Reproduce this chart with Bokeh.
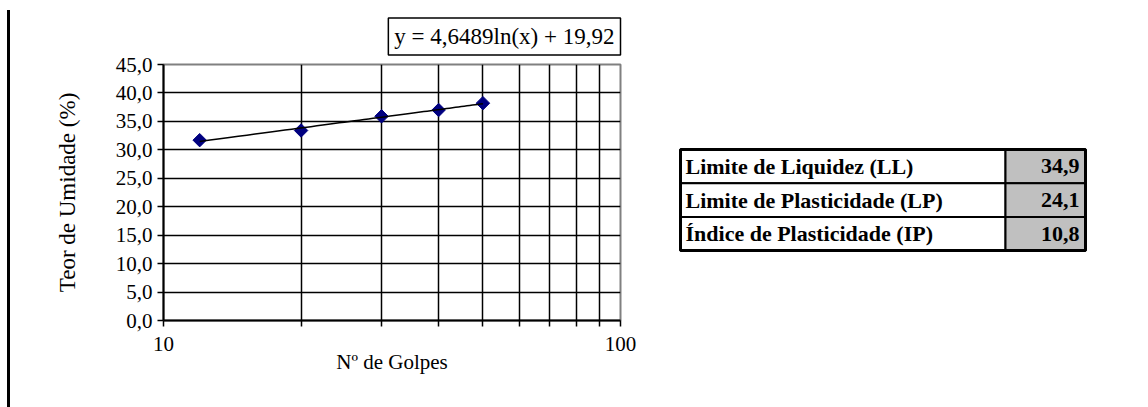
import numpy as np
from bokeh.plotting import figure
from bokeh.layouts import row
from bokeh.models import FixedTicker, BasicTickFormatter, Div
from bokeh.core.properties import value
from bokeh.embed import file_html
from bokeh.resources import INLINE

# Casagrande liquid-limit test: blows vs. moisture content
golpes = [12, 20, 30, 40, 50]
umidade = [31.7, 33.4, 35.9, 37.0, 38.2]

# logarithmic trend line  y = a*ln(x) + b
trend_a = 4.6489
trend_b = 19.92
trend_text = "y = 4,6489ln(x) + 19,92"

y_ticks = [0, 5, 10, 15, 20, 25, 30, 35, 40, 45]
y_tick_labels = ["0,0", "5,0", "10,0", "15,0", "20,0", "25,0", "30,0", "35,0", "40,0", "45,0"]
x_ticks = [10, 100]
x_minor_ticks = [20, 30, 40, 50, 60, 70, 80, 90]

# Atterberg limits summary
limit_names = ["Limite de Liquidez (LL)", "Limite de Plasticidade (LP)", "Índice de Plasticidade (IP)"]
limit_values = [34.9, 24.1, 10.8]

SERIF = "Liberation Serif"
H = 407
TOP, BOTTOM = 64, 87          # vertical margins around the plotting frame

# ---- thin vertical rule on the left edge ----
rule = Div(text='<div style="margin-left:7px; margin-top:10px; width:3px; '
                'height:397px; background:black"></div>',
           width=20, height=H, margin=0)

# ---- chart ----
p = figure(width=640, height=H, x_axis_type="log", x_range=(10, 100), y_range=(0, 45),
           output_backend="svg", toolbar_location=None,
           min_border_left=143, min_border_right=40,
           min_border_top=TOP, min_border_bottom=BOTTOM)
p.outline_line_color = "#808080"
p.outline_line_width = 2

p.xaxis.ticker = FixedTicker(ticks=x_ticks, minor_ticks=x_minor_ticks)
p.xaxis.formatter = BasicTickFormatter()
p.yaxis.ticker = FixedTicker(ticks=y_ticks)
p.yaxis.major_label_overrides = {t: s for t, s in zip(y_ticks, y_tick_labels)}

for ax in (p.xaxis, p.yaxis):
    ax.axis_line_color = "black"
    ax.axis_line_width = 2
    ax.major_tick_line_color = "black"
    ax.major_tick_line_width = 1.5
    ax.major_tick_out = 6
    ax.major_tick_in = 0
    ax.major_label_text_font = SERIF
    ax.major_label_text_font_size = "21px"
    ax.major_label_text_color = "black"
    ax.axis_label_text_font = SERIF
    ax.axis_label_text_font_style = "normal"
    ax.axis_label_text_font_size = "21px"
    ax.axis_label_text_color = "black"

p.xaxis.minor_tick_line_color = "black"
p.xaxis.minor_tick_line_width = 1.5
p.xaxis.minor_tick_out = 6
p.xaxis.minor_tick_in = 0
p.xaxis.major_label_standoff = 10
p.xaxis.axis_label = "Nº de Golpes"
p.xaxis.axis_label_standoff = -4

p.yaxis.minor_tick_line_color = None
p.yaxis.major_label_standoff = 5
p.yaxis.axis_label = "Teor de Umidade (%)"
p.yaxis.axis_label_text_font_size = "23px"
p.yaxis.axis_label_standoff = 33

p.xgrid.ticker = FixedTicker(ticks=x_minor_ticks)
p.ygrid.ticker = FixedTicker(ticks=y_ticks[1:-1])
p.grid.grid_line_color = "black"
p.grid.grid_line_width = 1.5

# boxed trend-line equation above the frame
p.title.text = trend_text
p.title.align = "right"
p.title.vertical_align = "top"
p.title.text_font = SERIF
p.title.text_font_style = "normal"
p.title.text_font_size = "23px"
p.title.text_color = "black"
p.title.border_line_color = "black"
p.title.border_line_width = 1.5
p.title.background_fill_color = "white"
p.title.padding = 6
p.title.standoff = 15

# trend line over the measured range
xt = np.linspace(min(golpes), max(golpes), 60)
yt = trend_a * np.log(xt) + trend_b

p.scatter(golpes, umidade, marker="square", angle=np.pi / 4, size=9.5,
          fill_color="#000080", line_color="#000080")
p.line(xt, yt, line_color="black", line_width=1.5)

# ---- limits table (data units = pixels) ----
pt = figure(width=488, height=H, x_range=(0, 488), y_range=(H - BOTTOM, TOP),
            output_backend="svg", toolbar_location=None,
            min_border_left=0, min_border_right=0,
            min_border_top=TOP, min_border_bottom=BOTTOM, outline_line_color=None)
pt.axis.visible = False
pt.grid.visible = False

tbl_left, tbl_split, tbl_right = 20, 345, 425
tbl_top, row_h = 149, 33.7
n = len(limit_names)
tops = [tbl_top + i * row_h for i in range(n)]
bots = [t + row_h for t in tops]
mids = [t + row_h / 2 for t in tops]

pt.quad(left=[tbl_left] * n, right=[tbl_split] * n, top=tops, bottom=bots,
        fill_color="white", line_color="black", line_width=2)
pt.quad(left=[tbl_split] * n, right=[tbl_right] * n, top=tops, bottom=bots,
        fill_color="#c0c0c0", line_color="black", line_width=2)
pt.quad(left=[tbl_left], right=[tbl_right], top=[tops[0]], bottom=[bots[-1]],
        fill_color=None, line_color="black", line_width=3)

pt.text(x=[tbl_left + 5] * n, y=mids, text=limit_names,
        text_font=value(SERIF), text_font_style="bold", text_font_size="22px",
        text_baseline="middle", text_align="left", text_color="black")
pt.text(x=[tbl_right - 6] * n, y=mids,
        text=[f"{v:.1f}".replace(".", ",") for v in limit_values],
        text_font=value(SERIF), text_font_style="bold", text_font_size="22px",
        text_baseline="middle", text_align="right", text_color="black")

layout = row(rule, p, pt)
open("out.html", "w").write(file_html(layout, INLINE))
